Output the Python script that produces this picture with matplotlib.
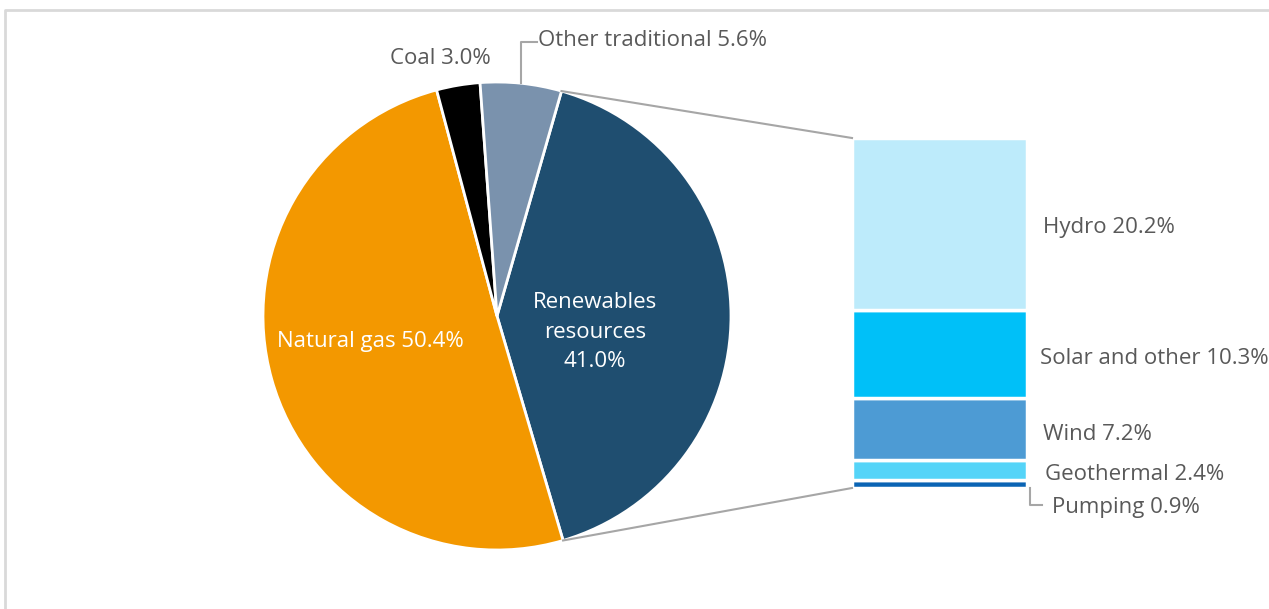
import numpy as np
import matplotlib
matplotlib.use("Agg")
import matplotlib.pyplot as plt

plt.rcParams['font.family'] = ['Open Sans', 'DejaVu Sans']

# Données
pie_labels = ["Renewables\nresources\n41.0%", "Natural gas 50.4%", "Coal 3.0%", "Other traditional 5.6%"]
pie_values = [41.0, 50.4, 3.0, 5.6]
pie_colors = ["#1F4E70", "#F39800", "#000000", "#7A92AD"]

bar_labels = ["Pumping 0.9%", "Geothermal 2.4%", "Wind 7.2%", "Solar and other 10.3%", "Hydro 20.2%"]
bar_values = [0.9, 2.4, 7.2, 10.3, 20.2]
bar_colors = ["#0A64B4", "#55D4F8", "#4D9BD4", "#00C0F8", "#BDEBFB"]

W, H = 1269, 609
fig = plt.figure(figsize=(W / 100, H / 100), dpi=100)
ax = fig.add_axes([0, 0, 1, 1])

txt = "#595959"
fs = 16

# Camembert
cx, cy, r = 497, 293, 234
start = 74
wedges, _ = ax.pie(pie_values, colors=pie_colors, startangle=start, counterclock=False,
                   center=(cx, cy), radius=r, frame=True,
                   wedgeprops=dict(edgecolor="white", linewidth=2))
ax.set_xlim(0, W)
ax.set_ylim(0, H)
ax.axis('off')

# Cadre
ax.plot([5, 5, W], [0, H - 10, H - 10], color="#D9D9D9", lw=2, solid_capstyle='butt')

# Angles des bords
frac = np.array(pie_values) / sum(pie_values)
edges = start - 360 * np.concatenate(([0], np.cumsum(frac)))
mids = (edges[:-1] + edges[1:]) / 2

ax.text(595, H - 332, pie_labels[0], color="white", ha="center", va="center",
        fontsize=fs, linespacing=1.55)
ax.text(370, H - 341, pie_labels[1], color="white", ha="center", va="center", fontsize=fs)
ax.text(440, H - 58, pie_labels[2], color=txt, ha="center", va="center", fontsize=fs)

# Étiquette "Other traditional" avec trait
a = np.radians(mids[3])
px, py = cx + r * np.cos(a), cy + r * np.sin(a)
ax.plot([px, px, px + 16], [py, H - 42, H - 42], color="#A6A6A6", lw=1.5)
ax.text(px + 17, H - 41, pie_labels[3], color=txt, ha="left", va="center", fontsize=fs)

# Barre empilée
bx0, bx1 = 852, 1027
by0, by1 = H - 488, H - 138
scale = (by1 - by0) / sum(bar_values)
bottoms = by0 + scale * np.concatenate(([0], np.cumsum(bar_values)[:-1]))
ax.bar([(bx0 + bx1) / 2] * len(bar_values), np.array(bar_values) * scale, bottom=bottoms,
       width=bx1 - bx0, color=bar_colors, edgecolor="white", linewidth=2.5)

# Lignes de liaison
a1, a2 = np.radians(edges[0]), np.radians(edges[1])
ax.plot([cx + r * np.cos(a1), bx0], [cy + r * np.sin(a1), by1], color="#A6A6A6", lw=1.5)
ax.plot([cx + r * np.cos(a2), bx0], [cy + r * np.sin(a2), by0], color="#A6A6A6", lw=1.5)

# Étiquettes des barres
label_pos = [(1052, H - 508), (1045, H - 474), (1043, H - 434), (1040, H - 358), (1043, H - 227)]
for lab, (lx, ly) in zip(bar_labels, label_pos):
    ax.text(lx, ly, lab, color=txt, ha="left", va="center", fontsize=fs)
ax.plot([1030, 1030, 1042], [by0, H - 505, H - 505], color="#A6A6A6", lw=1.5)

fig.savefig("out.png", dpi=100)
